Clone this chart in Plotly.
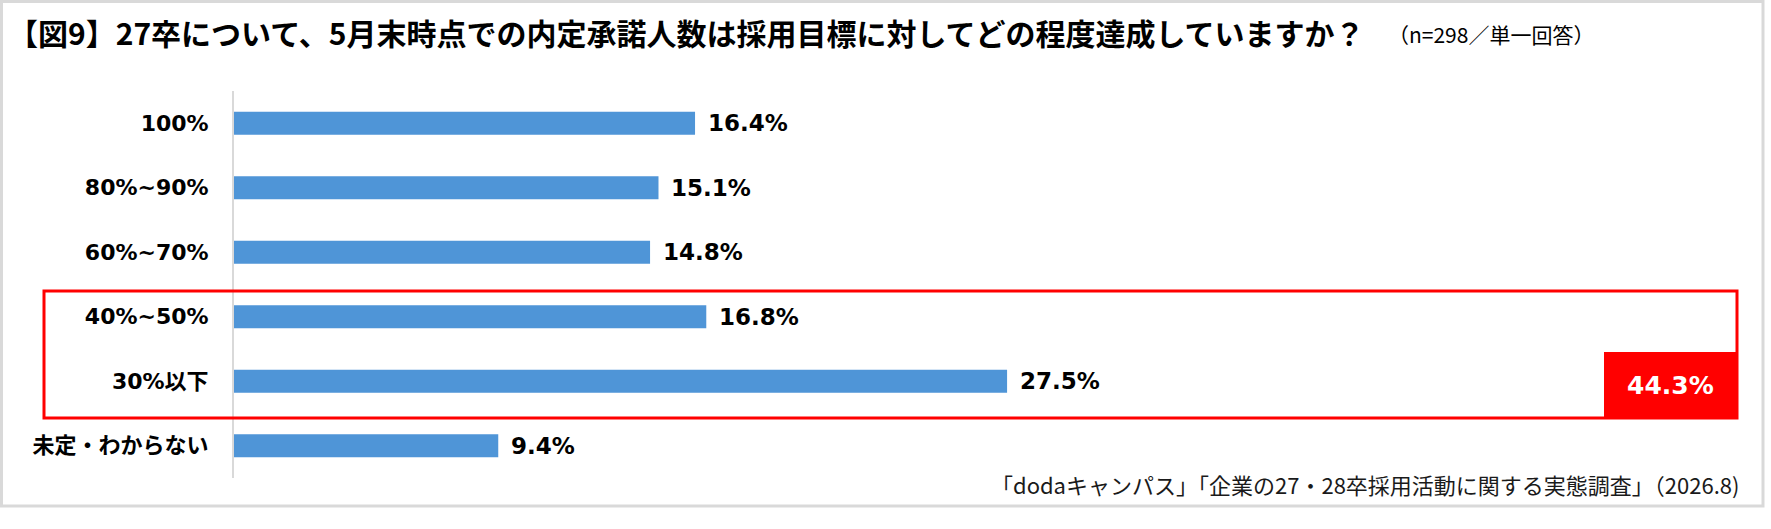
import plotly.graph_objects as go

# --- Daten ---
categories = ['100%', '80%~90%', '60%~70%', '40%~50%', '30%以下', '未定・わからない']
values = [16.4, 15.1, 14.8, 16.8, 27.5, 9.4]
highlight_label = '44.3%'

title_text = '【図9】27卒について、5月末時点での内定承諾人数は採用目標に対してどの程度達成していますか？'
subtitle_text = '（n=298／単一回答）'
source_text = '「dodaキャンパス」「企業の27・28卒採用活動に関する実態調査」（2026.8)'

BAR_COLOR = '#4F95D7'
RED = '#FF0000'
FRAME = '#D9D9D9'
JP = 'Noto Sans CJK JP'
NUM = 'DejaVu Sans, Noto Sans CJK JP'

# --- Layout in Pixeln ---
W, H = 1771, 529
L, R, T, B = 234, 33, 91, 51
PW, PH = W - L - R, H - T - B


def px(x):
    return (x - L) / PW


def py(y):
    return 1 - (y - T) / PH


fig = go.Figure()

fig.add_trace(go.Bar(
    x=values,
    y=categories,
    orientation='h',
    marker=dict(color=BAR_COLOR, line=dict(width=0)),
    width=0.36,
    hoverinfo='skip',
))

# Wertelabels rechts neben den Balken
annotations = []
for cat, v in zip(categories, values):
    annotations.append(dict(
        x=v, y=cat, xref='x', yref='y',
        text=f'<b>{v:.1f}%</b>',
        showarrow=False, xanchor='left', yanchor='middle', xshift=11,
        font=dict(family=NUM, size=23, color='#000000'),
    ))

# Titel, n-Angabe, Quelle
annotations += [
    dict(x=px(6), y=py(32), xref='paper', yref='paper',
         text=f'<b>{title_text}</b>', showarrow=False,
         xanchor='left', yanchor='middle',
         font=dict(family=JP, size=30, color='#000000')),
    dict(x=px(1386), y=py(34), xref='paper', yref='paper',
         text=subtitle_text, showarrow=False,
         xanchor='left', yanchor='middle',
         font=dict(family=JP, size=21, color='#000000')),
    dict(x=px(1741), y=py(484), xref='paper', yref='paper',
         text=source_text, showarrow=False,
         xanchor='right', yanchor='middle',
         font=dict(family=JP, size=22, color='#1A1A1A')),
    dict(x=(px(1604) + px(1737)) / 2, y=(py(352) + py(419)) / 2,
         xref='paper', yref='paper',
         text=f'<b>{highlight_label}</b>', showarrow=False,
         xanchor='center', yanchor='middle',
         font=dict(family=NUM, size=25, color='#FFFFFF')),
]

shapes = [
    # äußerer Rahmen
    dict(type='rect', xref='paper', yref='paper',
         x0=px(1.5), x1=px(1763), y0=py(1.5), y1=py(506),
         line=dict(color=FRAME, width=3), layer='below'),
    # roter Rahmen um 40%~50% und 30%以下
    dict(type='rect', xref='paper', yref='paper',
         x0=px(44), x1=px(1737), y0=py(291), y1=py(418),
         line=dict(color=RED, width=3)),
    # rotes Feld mit Summe
    dict(type='rect', xref='paper', yref='paper',
         x0=px(1604), x1=px(1737), y0=py(352), y1=py(419),
         fillcolor=RED, line=dict(color=RED, width=0)),
]

fig.update_layout(
    width=W, height=H,
    margin=dict(l=L, r=R, t=T, b=B),
    paper_bgcolor='white',
    plot_bgcolor='white',
    showlegend=False,
    annotations=annotations,
    shapes=shapes,
    xaxis=dict(range=[0, 53.5], visible=False, fixedrange=True),
    yaxis=dict(
        categoryorder='array', categoryarray=categories,
        range=[len(categories) - 0.5, -0.5],
        showline=True, linecolor=FRAME, linewidth=2,
        showgrid=False, zeroline=False,
        ticks='', ticklabelstandoff=19,
        tickfont=dict(family=NUM, size=22, color='#000000', weight='bold'),
        fixedrange=True,
    ),
)

# Seitenrand des Browsers entfernen, damit die Grafik bei (0,0) beginnt
fig.write_html('out.html', config={'displayModeBar': False},
               post_script="document.body.style.margin='0';")
